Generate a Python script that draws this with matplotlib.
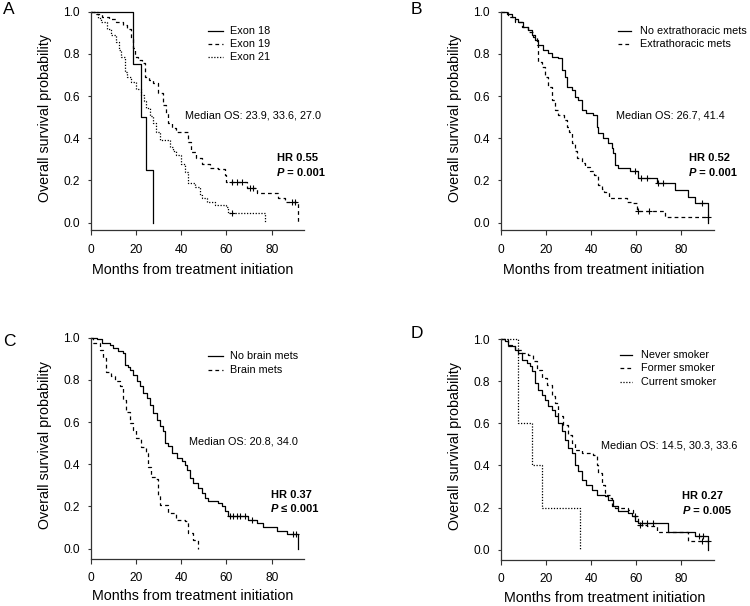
import matplotlib
matplotlib.use('Agg')
import matplotlib.pyplot as plt
from matplotlib.lines import Line2D
import numpy as np

plt.rcParams['font.family'] = ['Liberation Sans', 'DejaVu Sans']

# ---- Panel A: exon ----
exon18_t = [0, 18.5, 22.3, 24.4, 27.5]
exon18_s = [1.0, 0.75, 0.50, 0.25, 0.0]
exon18_cens = []

exon19_t = [0, 2, 5, 8, 11, 14, 16, 17.5, 18.5, 19.5, 21, 22.4, 23.8, 25.5, 27.5, 29.7, 31.9, 33, 34.1, 36,
            37.8, 43, 44.4, 46.5, 49, 52.7, 56.4, 59.3, 60, 69, 73.4, 83, 86, 91.8]
exon19_s = [1.0, 0.99, 0.976, 0.965, 0.95, 0.937, 0.92, 0.87, 0.826, 0.787, 0.77, 0.755, 0.69, 0.675, 0.66,
            0.613, 0.558, 0.52, 0.471, 0.45, 0.431, 0.384, 0.336, 0.305, 0.28, 0.26, 0.255, 0.225, 0.195,
            0.163, 0.142, 0.115, 0.1, 0.0]
exon19_cens = [62.3, 64.5, 66.7, 70.4, 71.9, 88.9, 90.4]

exon21_t = [0, 3, 4.6, 7, 9, 11.2, 12.5, 13.4, 14.9, 16, 17.8, 20, 22.3, 23.5, 24.5, 26, 27.5, 29, 30.4, 34.8,
            36.5, 37.8, 40, 41.5, 43, 45.9, 48.1, 49, 51.2, 54.9, 60, 60.8, 77]
exon21_s = [1.0, 0.97, 0.95, 0.92, 0.89, 0.858, 0.82, 0.787, 0.716, 0.69, 0.668, 0.635, 0.605, 0.575, 0.542,
            0.505, 0.471, 0.43, 0.392, 0.36, 0.34, 0.321, 0.28, 0.242, 0.187, 0.17, 0.131, 0.115, 0.1, 0.085,
            0.076, 0.045, 0.0]
exon21_cens = [62.3]

# ---- Panel B: extrathoracic mets ----
noextra_t = [0, 2.5, 4.7, 6.2, 7.7, 9.9, 12.1, 13.6, 15.1, 16.6, 18.8, 21, 22.5, 25.5, 27, 28.4, 29.2, 31.4,
             32.9, 34.4, 35.9, 38, 41, 42.5, 43.3, 45.5, 47.7, 49.2, 49.9, 50.7, 52.1, 57.3, 61, 69.2, 77.3,
             83.3, 86.2, 92.1]
noextra_s = [1.0, 0.99, 0.976, 0.965, 0.953, 0.929, 0.913, 0.889, 0.866, 0.842, 0.818, 0.802, 0.787, 0.779,
             0.724, 0.692, 0.645, 0.629, 0.597, 0.581, 0.534, 0.518, 0.51, 0.455, 0.423, 0.4, 0.376, 0.352,
             0.329, 0.273, 0.258, 0.245, 0.21, 0.186, 0.155, 0.12, 0.092, 0.0]
noextra_cens = [59.5, 62.3, 64.7, 70, 72, 89.2]

extra_t = [0, 3.3, 6.2, 9.2, 12.1, 14.4, 15.9, 16.6, 18.1, 19.6, 21, 22.5, 24, 25.2, 27.9, 29.2, 30.1, 31.4,
           32.9, 33.8, 35.9, 37.5, 39.6, 41.2, 43.3, 44.7, 45.6, 47.9, 55.9, 58, 60.3, 72.9]
extra_s = [1.0, 0.976, 0.953, 0.929, 0.905, 0.882, 0.842, 0.763, 0.74, 0.692, 0.645, 0.581, 0.535, 0.51,
           0.487, 0.455, 0.43, 0.376, 0.34, 0.305, 0.285, 0.265, 0.245, 0.226, 0.178, 0.16, 0.147, 0.115,
           0.1, 0.092, 0.057, 0.028]
extra_cens = [61, 65.8, 92]

# ---- Panel C: brain mets ----
nobrain_t = [0, 2.5, 4.7, 8.4, 9.9, 12.1, 14.3, 15, 16.2, 17.3, 18.7, 20.2, 21.7, 23.2, 24.6, 26.1, 27.6,
             29.1, 30.6, 32, 32.8, 34.2, 35.7, 37.9, 40.1, 41.6, 42.4, 43.8, 45.3, 47.5, 49, 50.5, 52, 56.4,
             57.9, 59.3, 60.8, 69.7, 73.4, 76.3, 82.2, 86.6, 91.8]
nobrain_s = [1.0, 0.994, 0.975, 0.967, 0.951, 0.935, 0.927, 0.872, 0.86, 0.848, 0.825, 0.793, 0.769, 0.738,
             0.714, 0.682, 0.643, 0.611, 0.58, 0.556, 0.501, 0.485, 0.453, 0.43, 0.414, 0.398, 0.374, 0.335,
             0.311, 0.288, 0.264, 0.24, 0.224, 0.216, 0.2, 0.177, 0.153, 0.137, 0.122, 0.103, 0.082, 0.071, 0.0]
nobrain_cens = [61.5, 63, 64.5, 66, 68.2, 71.5, 89.6, 91]

brain_t = [0, 0.9, 3.8, 5.3, 6.8, 9, 10.5, 12.7, 14.2, 15.6, 17.1, 18.6, 20.1, 22.3, 24.5, 25.2, 26.7, 28.2,
           29.7, 30.4, 34.1, 37.8, 41.5, 42.9, 45.2, 47.4]
brain_s = [1.0, 0.975, 0.943, 0.903, 0.839, 0.82, 0.793, 0.77, 0.705, 0.65, 0.594, 0.562, 0.523, 0.483,
           0.452, 0.389, 0.341, 0.33, 0.254, 0.207, 0.167, 0.136, 0.13, 0.073, 0.041, 0.0]
brain_cens = []

# ---- Panel D: smoking ----
never_t = [0, 1.8, 3.3, 4.7, 6.2, 7.7, 9.2, 11.4, 12.9, 13.6, 15.1, 16.6, 18.1, 19.6, 21, 22.5, 24, 25.5,
           27, 28.4, 29.9, 31.4, 32.9, 34.4, 35.9, 38, 40.3, 42.5, 46.2, 47.7, 49.9, 52.1, 56.6, 58.1, 59.6,
           61, 74.4, 86.2, 91.9]
never_s = [1.0, 0.989, 0.973, 0.965, 0.949, 0.934, 0.902, 0.886, 0.87, 0.847, 0.791, 0.759, 0.736, 0.712,
           0.68, 0.665, 0.633, 0.601, 0.562, 0.522, 0.483, 0.459, 0.403, 0.372, 0.332, 0.309, 0.285, 0.261,
           0.253, 0.237, 0.206, 0.182, 0.174, 0.158, 0.134, 0.127, 0.085, 0.066, 0.0]
never_cens = [62.5, 65, 67.5, 88, 90]

former_t = [0, 3.3, 6.2, 9.2, 12.1, 14.4, 15.9, 18.1, 20.3, 22.5, 24, 25.5, 27.7, 29.9, 31.4, 32.9, 35.9,
            41, 42.5, 43.3, 44.7, 46.2, 48.4, 49.2, 50.7, 56.6, 58.8, 61, 64.7, 69.2, 83.3]
former_s = [1.0, 0.965, 0.949, 0.934, 0.926, 0.894, 0.854, 0.815, 0.783, 0.728, 0.696, 0.633, 0.593, 0.546,
            0.506, 0.475, 0.459, 0.451, 0.403, 0.364, 0.309, 0.261, 0.245, 0.206, 0.198, 0.19, 0.158, 0.119,
            0.111, 0.082, 0.04]
former_cens = [59.5, 62, 89.5, 92]

current_t = [0, 7.4, 13.6, 18.1, 35.1]
current_s = [1.0, 0.6, 0.4, 0.2, 0.0]
current_cens = []

x_ticks = [0, 20, 40, 60, 80]
y_ticks = [0.0, 0.2, 0.4, 0.6, 0.8, 1.0]

SOLID = '-'
DASHED = (0, (3, 2.5))
DOTTED = (0, (1, 1.3))

W, H = 750, 606
fig = plt.figure(figsize=(W / 100, H / 100), dpi=100)


def km(ax, t, s, cens, ls):
    t = list(t)
    s = list(s)
    end = max([t[-1]] + list(cens))
    xs = t + [end]
    ys = s + [s[-1]]
    ax.step(xs, ys, where='post', color='black', lw=0.9, linestyle=ls, clip_on=False)
    if cens:
        idx = np.searchsorted(np.array(t), np.array(cens), side='right') - 1
        ax.plot(cens, np.array(s)[idx], linestyle='none', marker='+', ms=5, mew=0.8,
                color='black', clip_on=False)


def setup(ax, ybottom, xlab_pos):
    ax.set_xlim(0, 94.5)
    ax.set_ylim(ybottom, 1.0)
    ax.set_xticks(x_ticks)
    ax.set_yticks(y_ticks)
    ax.set_yticklabels([f'{v:.1f}' for v in y_ticks])
    for side in ['top', 'right']:
        ax.spines[side].set_visible(False)
    for side in ['left', 'bottom']:
        ax.spines[side].set_linewidth(0.9)
        ax.spines[side].set_color('#333333')
    ax.tick_params(axis='x', length=3.6, width=0.8, pad=6.3, labelsize=8.6, color='#333333')
    ax.tick_params(axis='y', length=2.5, width=0.8, pad=5.5, labelsize=8.6, color='#333333')
    ax.set_xlabel('Months from treatment initiation', fontsize=10.3, va='center')
    ax.xaxis.set_label_coords(xlab_pos[0], xlab_pos[1])
    ax.set_ylabel('Overall survival probability', fontsize=10.3, va='center')
    ax.yaxis.set_label_coords(-0.2156, 0.513)


def key(labels, styles, x_line, x_text, y_rows):
    # legend drawn at figure pixel positions
    for lab, st, y in zip(labels, styles, y_rows):
        fig.add_artist(Line2D([x_line[0] / W, x_line[1] / W], [1 - y / H, 1 - y / H],
                              transform=fig.transFigure, color='black', lw=0.9, linestyle=st))
        fig.text(x_text / W, 1 - y / H, lab, fontsize=7.8, ha='left', va='center')


def stats(ax, median_txt, median_xy, hr_xy, hr, pval, op='='):
    ax.text(median_xy[0], median_xy[1], 'Median OS: ' + ', '.join(median_txt), fontsize=7.8,
            ha='left', va='center')
    ax.text(hr_xy[0], hr_xy[1], f'HR {hr}', fontsize=8, fontweight='bold', ha='left', va='center')
    p = ax.text(hr_xy[0], hr_xy[2], 'P', fontsize=8, fontweight='bold', fontstyle='italic',
                ha='left', va='center')
    ax.annotate(f' {op} {pval}', xy=(1, 0), xycoords=p, fontsize=8, fontweight='bold',
                ha='left', va='bottom')


# Panel A
axA = fig.add_axes([91 / W, 1 - 230 / H, 213.4 / W, 218.3 / H])
km(axA, exon18_t, exon18_s, exon18_cens, SOLID)
km(axA, exon19_t, exon19_s, exon19_cens, DASHED)
km(axA, exon21_t, exon21_s, exon21_cens, DOTTED)
setup(axA, -0.0346, (0.4766, -0.183))
key(['Exon 18', 'Exon 19', 'Exon 21'], [SOLID, DASHED, DOTTED], (208, 223), 230, [30.7, 44, 57.3])
stats(axA, ['23.9', '33.6', '27.0'], (41.6, 0.506), (82.2, 0.305, 0.237), '0.55', '0.001')

# Panel B
axB = fig.add_axes([501 / W, 1 - 230 / H, 212.6 / W, 218.3 / H])
km(axB, noextra_t, noextra_s, noextra_cens, SOLID)
km(axB, extra_t, extra_s, extra_cens, DASHED)
setup(axB, -0.0346, (0.4835, -0.183))
key(['No extrathoracic mets', 'Extrathoracic mets'], [SOLID, DASHED], (618, 631), 640, [30.7, 44])
stats(axB, ['26.7', '41.4'], (51.0, 0.506), (83.6, 0.305, 0.237), '0.52', '0.001')

# Panel C
axC = fig.add_axes([91 / W, 1 - 558.7 / H, 213.4 / W, 221 / H])
km(axC, nobrain_t, nobrain_s, nobrain_cens, SOLID)
km(axC, brain_t, brain_s, brain_cens, DASHED)
setup(axC, -0.0474, (0.4766, -0.170))
key(['No brain mets', 'Brain mets'], [SOLID, DASHED], (208, 223), 230, [356.3, 370.3])
stats(axC, ['20.8', '34.0'], (43.5, 0.509), (79.6, 0.253, 0.188), '0.37', '0.001', op='\u2264')

# Panel D
axD = fig.add_axes([501 / W, 1 - 559.7 / H, 212.6 / W, 220.7 / H])
km(axD, never_t, never_s, never_cens, SOLID)
km(axD, former_t, former_s, former_cens, DASHED)
km(axD, current_t, current_s, current_cens, DOTTED)
setup(axD, -0.0475, (0.4854, -0.1735))
key(['Never smoker', 'Former smoker', 'Current smoker'], [SOLID, DASHED, DOTTED], (620, 632), 640.7,
    [354.7, 368, 382])
stats(axD, ['14.5', '30.3', '33.6'], (44.3, 0.494), (80.6, 0.253, 0.182), '0.27', '0.005')

# panel letters
for letter, (px, py) in zip('ABCD', [(9, 9), (416.5, 9), (9, 342), (417, 333)]):
    fig.text(px / W, 1 - py / H, letter, fontsize=12.5, ha='center', va='center')

fig.savefig('out.png', dpi=100, facecolor='white')
